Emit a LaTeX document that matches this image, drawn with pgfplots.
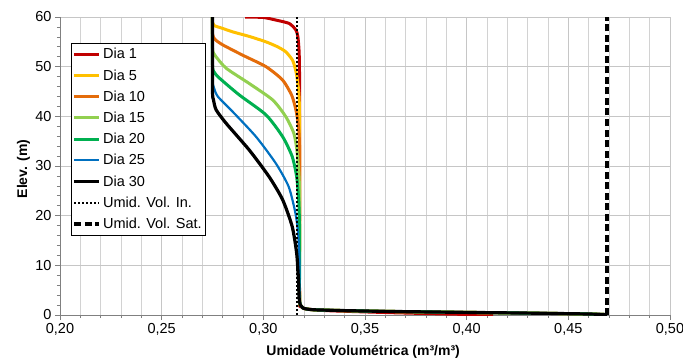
\documentclass[border=0pt]{standalone}
\usepackage{fontspec}
\setmainfont{Liberation Sans}
\usepackage{pgfplots}
\pgfplotsset{compat=1.18}
\definecolor{cRed}{HTML}{C00000}
\definecolor{cYel}{HTML}{FFC000}
\definecolor{cOra}{HTML}{E46C0A}
\definecolor{cLgr}{HTML}{92D050}
\definecolor{cGrn}{HTML}{00B050}
\definecolor{cBlu}{HTML}{0070C0}
\begin{document}
\begin{tikzpicture}
\useasboundingbox (-60pt,-47pt) rectangle (623pt,315pt);
\begin{axis}[
  at={(0,0)}, anchor=south west,
  scale only axis, width=610pt, height=298pt,
  xmin=0.2, xmax=0.5, ymin=0, ymax=60,
  axis x line*=bottom, axis y line*=left,
  axis line style={draw=gray, line width=0.8pt, -},
  xtick={0.2,0.25,0.3,0.35,0.4,0.45,0.5},
  minor xtick={0.21,0.22,0.23,0.24,0.26,0.27,0.28,0.29,0.31,0.32,0.33,0.34,0.36,0.37,0.38,0.39,0.41,0.42,0.43,0.44,0.46,0.47,0.48,0.49},
  ytick={0,10,20,30,40,50,60},
  minor ytick={2,4,6,8,12,14,16,18,22,24,26,28,32,34,36,38,42,44,46,48,52,54,56,58},
  xmajorgrids, xminorgrids, ymajorgrids,
  grid style={draw=gray!45, line width=0.8pt},
  minor grid style={draw=gray!35, line width=0.8pt},
  tick align=outside,
  major tick length=5pt, minor tick length=3pt,
  tick style={draw=gray, line width=0.7pt},
  /pgf/number format/assume math mode=true,
  xticklabel style={/pgf/number format/.cd, fixed, fixed zerofill, precision=2, use comma},
  yticklabel style={/pgf/number format/.cd, fixed, precision=0},
  ticklabel style={font=\fontsize{14.5}{16}\selectfont},
  xlabel={Umidade Volumétrica (m³/m³)},
  ylabel={Elev. (m)},
  label style={font=\fontsize{14}{16}\selectfont\bfseries},
  xlabel style={at={(axis description cs:0.497,-0.125)}, anchor=center},
  ylabel style={at={(axis description cs:-0.060,0.49)}, anchor=center},
  legend style={at={(axis description cs:0.018,0.913)}, anchor=north west,
    draw=black, line width=0.8pt, fill=white,
    font=\fontsize{14.5}{16}\selectfont, row sep=5.2pt,
    inner xsep=1.5pt, inner ysep=3pt, cells={anchor=west}},
  legend image code/.code={\draw[#1] (0pt,0pt) -- (25pt,0pt);},
  every axis plot/.append style={line join=round},
]
% Dia 1
\addplot[cRed, line width=3pt, smooth, tension=0.4] coordinates {
(0.291,60) (0.300,59.9) (0.306,59.4) (0.3127,58.7) (0.316,57.4) (0.317,56) (0.3176,53) (0.3178,48) (0.3178,30) (0.3178,3.5)
(0.3182,2.0) (0.320,1.3) (0.33,0.9) (0.36,0.5) (0.39,0.2) (0.413,0.0)};
% Dia 5
\addplot[cYel, line width=3pt, smooth, tension=0.4] coordinates {
(0.275,60) (0.275,58.9) (0.2757,58.3) (0.280,57.7) (0.285,57.0) (0.293,56.1) (0.3013,55.0) (0.307,54.0) (0.311,53.0) (0.3145,51.2) (0.3163,48.5) (0.3174,45) (0.3178,40) (0.3178,20) (0.3178,3.5)
(0.3182,2.0) (0.3195,1.4) (0.325,1.05) (0.35,0.8) (0.38,0.62) (0.41,0.48) (0.44,0.33) (0.46,0.2) (0.469,0.08)};
% Dia 10
\addplot[cOra, line width=3pt, smooth, tension=0.4] coordinates {
(0.275,60) (0.275,56.6) (0.2762,55.5) (0.280,54.4) (0.2899,52.3) (0.3013,50.0) (0.3095,47.3) (0.3140,44.2) (0.3160,41.3) (0.3172,38.3) (0.3178,34) (0.3178,20) (0.3178,3.5)
(0.3182,2.0) (0.3195,1.4) (0.325,1.05) (0.35,0.8) (0.38,0.62) (0.41,0.48) (0.44,0.33) (0.46,0.2) (0.469,0.08)};
% Dia 15
\addplot[cLgr, line width=3pt, smooth, tension=0.4] coordinates {
(0.275,60) (0.275,53.7) (0.2762,52.3) (0.2817,49.7) (0.2931,46.6) (0.3046,43.3) (0.3111,39.9) (0.3150,36.6) (0.3165,33.2) (0.3174,29) (0.3178,25) (0.3178,15) (0.3178,3.5)
(0.3182,2.0) (0.3195,1.4) (0.325,1.05) (0.35,0.8) (0.38,0.62) (0.41,0.48) (0.44,0.33) (0.46,0.2) (0.469,0.08)};
% Dia 20
\addplot[cGrn, line width=3pt, smooth, tension=0.4] coordinates {
(0.275,60) (0.275,50.3) (0.2760,48.8) (0.2784,47.7) (0.2882,44.3) (0.3013,40.3) (0.3095,35.9) (0.3142,31.9) (0.3164,27.8) (0.3174,23) (0.3178,18) (0.3178,10) (0.3178,3.5)
(0.3182,2.0) (0.3195,1.4) (0.325,1.05) (0.35,0.8) (0.38,0.62) (0.41,0.48) (0.44,0.33) (0.46,0.2) (0.469,0.08)};
% Dia 25
\addplot[cBlu, line width=2.2pt, smooth, tension=0.4] coordinates {
(0.275,60) (0.275,47.7) (0.2757,45.8) (0.2776,44) (0.285,40.9) (0.2964,35.9) (0.3062,30.5) (0.3125,25.8) (0.3158,20.5) (0.3171,16.5) (0.3177,12) (0.3178,8) (0.3178,3.5)
(0.3182,2.0) (0.3195,1.4) (0.325,1.05) (0.35,0.8) (0.38,0.62) (0.41,0.48) (0.44,0.33) (0.46,0.2) (0.469,0.08)};
% Dia 30
\addplot[black, line width=3.2pt, smooth, tension=0.4] coordinates {
(0.275,60) (0.275,45.2) (0.2755,43.3) (0.2768,41.3) (0.2817,38.6) (0.2931,33.2) (0.3029,27.8) (0.3095,23.2) (0.3142,17.8) (0.3164,12.4) (0.3173,7.0) (0.3176,3.5)
(0.3182,2.0) (0.3195,1.4) (0.325,1.05) (0.35,0.8) (0.38,0.62) (0.41,0.48) (0.44,0.33) (0.46,0.2) (0.469,0.08)};
% Umid. Vol. In.
\addplot[black, line width=2.2pt, dash pattern=on 2pt off 2pt] coordinates {(0.3166,0) (0.3166,60)};
% Umid. Vol. Sat.
\addplot[black, line width=3.2pt, dash pattern=on 7pt off 3.5pt] coordinates {(0.469,0) (0.469,60)};
\legend{Dia 1, Dia 5, Dia 10, Dia 15, Dia 20, Dia 25, Dia 30, Umid. Vol. In., Umid. Vol. Sat.}
\end{axis}
\end{tikzpicture}
\end{document}
